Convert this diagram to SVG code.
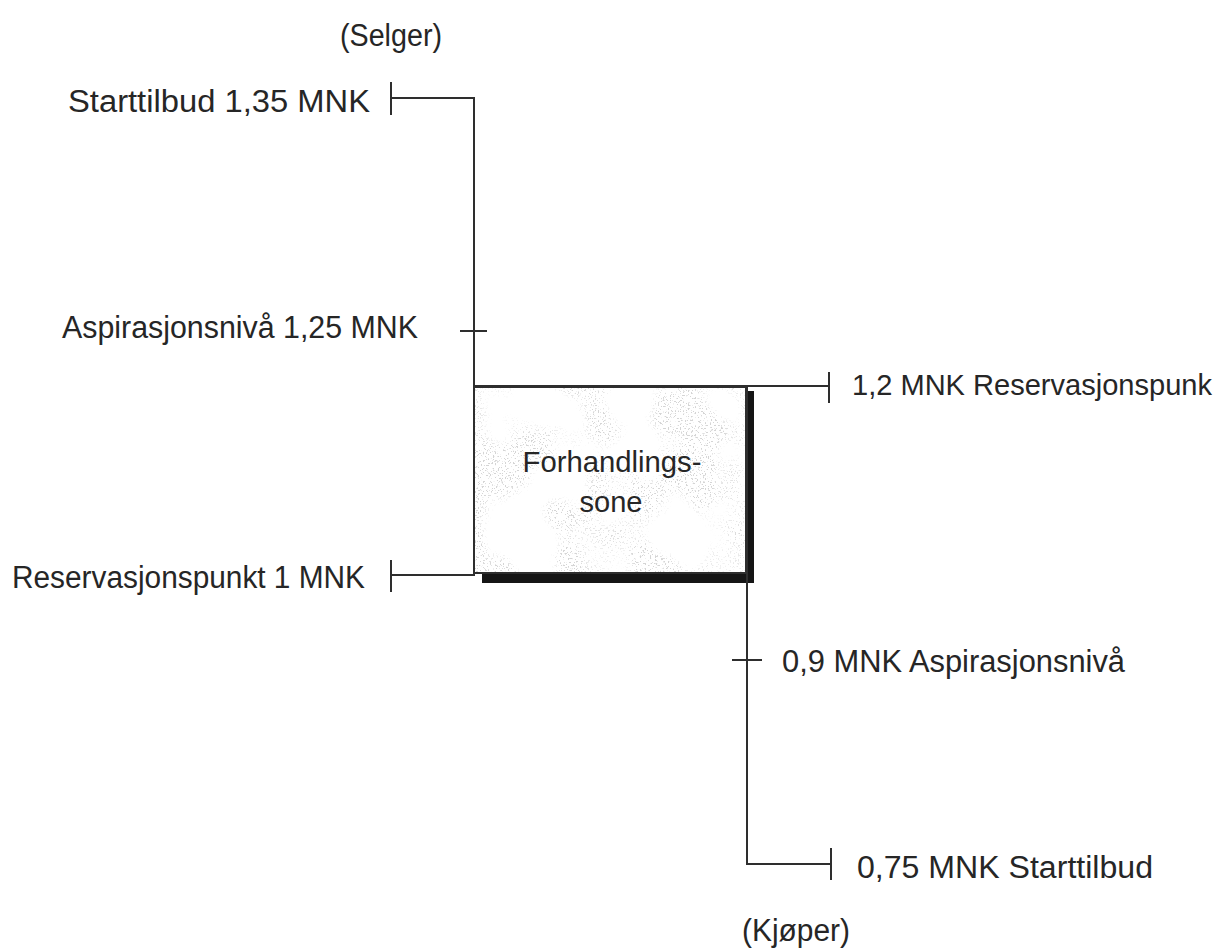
<svg xmlns="http://www.w3.org/2000/svg" width="1228" height="951" viewBox="0 0 1228 951">
  <style>
    .t { font-family: "Liberation Sans", Arial, sans-serif; font-size: 31px; fill: #262626; }
    .c { text-anchor: middle; }
    .s29 { font-size: 29px; }
    .ln { stroke: #2e2e2e; stroke-width: 2; fill: none; }
    .sh { fill: #151515; }
  </style>
  <defs>
    <filter id="speck" x="0" y="0" width="100%" height="100%">
      <feTurbulence type="fractalNoise" baseFrequency="0.6" numOctaves="2" seed="7" result="n"/>
      <feColorMatrix in="n" type="matrix" values="0 0 0 0 0.6  0 0 0 0 0.6  0 0 0 0 0.6  16 0 0 0 -9.6" result="s"/>
      <feTurbulence type="fractalNoise" baseFrequency="0.018" numOctaves="2" seed="3" result="m"/>
      <feColorMatrix in="m" type="matrix" values="0 0 0 0 0  0 0 0 0 0  0 0 0 0 0  6 0 0 0 -2.6" result="mask"/>
      <feComposite in="s" in2="mask" operator="in" result="sm"/>
      <feComposite in="sm" in2="SourceGraphic" operator="in"/>
    </filter>
  </defs>
  <rect width="1228" height="951" fill="#ffffff"/>

  <g id="labels-seller">
    <text class="t" x="340" y="46" textLength="102" lengthAdjust="spacingAndGlyphs">(Selger)</text>
  </g>
  <g id="labels-buyer">
    <text class="t" x="742" y="941" textLength="108" lengthAdjust="spacingAndGlyphs">(Kjøper)</text>
  </g>

  <g id="zone">
    <rect x="474" y="387" width="272" height="186" fill="#ffffff"/>
    <rect x="474" y="387" width="272" height="186" fill="#000" filter="url(#speck)" opacity="0.8"/>
    <rect class="sh" x="745" y="391" width="9" height="192"/>
    <rect class="sh" x="482" y="574" width="272" height="9"/>
    <rect x="474" y="387" width="272" height="186" fill="none" stroke="#2e2e2e" stroke-width="2"/>
    <text class="t c s29" x="612" y="472" textLength="179" lengthAdjust="spacingAndGlyphs">Forhandlings-</text>
    <text class="t c s29" x="611" y="512" textLength="63" lengthAdjust="spacingAndGlyphs">sone</text>
  </g>

  <g id="connectors">
    <path class="ln" d="M391 98 H474 V575 H391"/>
    <path class="ln" d="M391 82 V115"/>
    <path class="ln" d="M391 560 V592"/>
    <path class="ln" d="M460 331 H487"/>
    <path class="ln" d="M474 386 H829"/>
    <path class="ln" d="M829 372 V403"/>
    <path class="ln" d="M747 386 V864 H831"/>
    <path class="ln" d="M831 848 V880"/>
    <path class="ln" d="M732 660 H762"/>
  </g>

  <g id="seller-start">
    <text class="t" x="68" y="112" textLength="302" lengthAdjust="spacingAndGlyphs">Starttilbud  1,35 MNK</text>
  </g>
  <g id="seller-aspiration">
    <text class="t" x="62" y="338" textLength="356" lengthAdjust="spacingAndGlyphs">Aspirasjonsnivå 1,25 MNK</text>
  </g>
  <g id="seller-reservation">
    <text class="t" x="12" y="588" textLength="353" lengthAdjust="spacingAndGlyphs">Reservasjonspunkt 1 MNK</text>
  </g>
  <g id="buyer-reservation">
    <text class="t s29" x="852" y="395" textLength="360" lengthAdjust="spacingAndGlyphs">1,2 MNK Reservasjonspunk</text>
  </g>
  <g id="buyer-aspiration">
    <text class="t" x="782" y="672" textLength="343" lengthAdjust="spacingAndGlyphs">0,9 MNK Aspirasjonsnivå</text>
  </g>
  <g id="buyer-start">
    <text class="t" x="857" y="878" textLength="296" lengthAdjust="spacingAndGlyphs">0,75 MNK Starttilbud</text>
  </g>
</svg>
